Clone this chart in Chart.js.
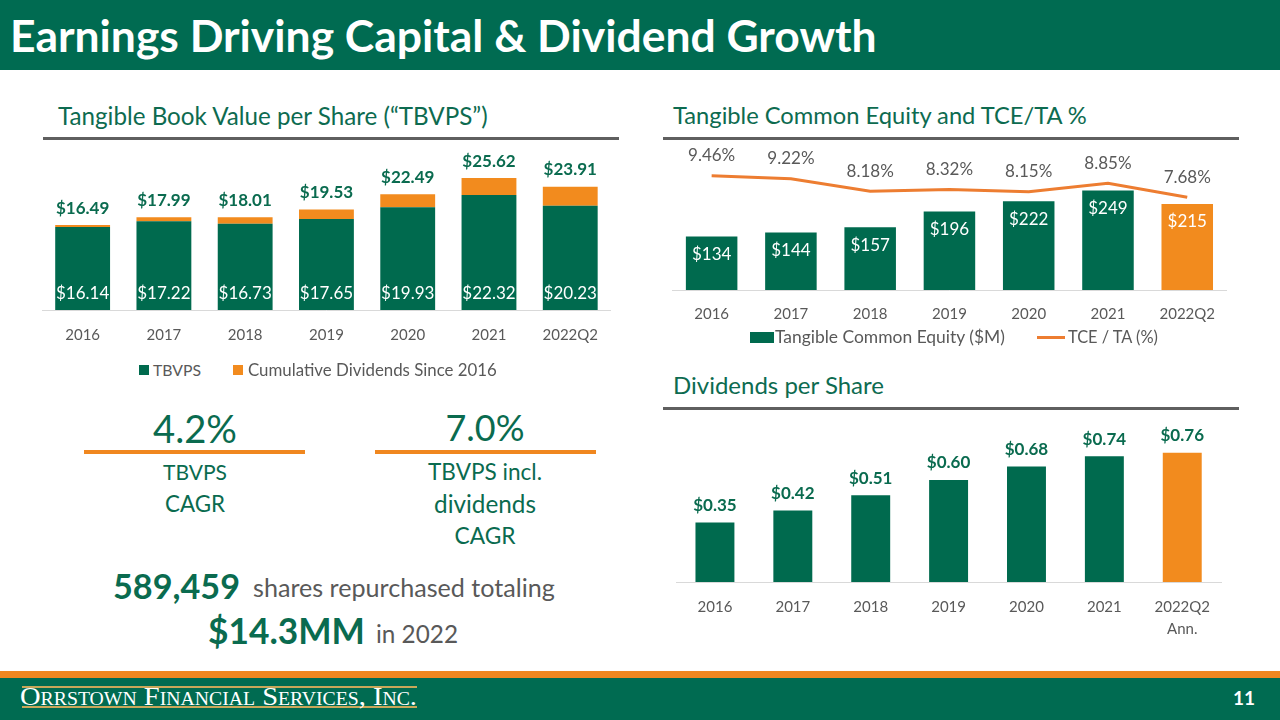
<!DOCTYPE html>
<html>
<head>
<meta charset="utf-8">
<script src="https://cdn.jsdelivr.net/npm/chart.js@4.4.1/dist/chart.umd.min.js"></script>
<style>
  html,body{margin:0;padding:0;}
  body{width:1280px;height:720px;position:relative;overflow:hidden;background:#fff;font-family:Lato,"Noto Sans",sans-serif;}
  .abs{position:absolute;white-space:nowrap;line-height:1;}
  .l{transform:translateY(-50%);}
  .c{transform:translate(-50%,-50%);}
  #hdr{position:absolute;left:0;top:0;width:1280px;height:70px;background:#006B51;}
  .rule{position:absolute;height:3px;background:#5f5f5f;}
  .sub{color:#0D6B50;font-size:24px;}
  .gray{color:#595959;}
  .green{color:#0A6B4F;}
  canvas{position:absolute;}
  .sw{position:absolute;}
</style>
</head>
<body>
<div id="hdr"></div>
<div class="abs l" style="left:10px;top:35px;color:#fff;font-weight:700;font-size:40px;" data-w="867">Earnings Driving Capital &amp; Dividend Growth</div>

<div class="abs l sub" style="left:58px;top:116px;" data-w="430">Tangible Book Value per Share (“TBVPS”)</div>
<div class="rule" style="left:43px;top:137px;width:576px;"></div>
<div class="abs l sub" style="left:673px;top:116px;" data-w="414">Tangible Common Equity and TCE/TA %</div>
<div class="rule" style="left:663px;top:137px;width:576px;"></div>
<div class="abs l sub" style="left:673px;top:385px;" data-w="211">Dividends per Share</div>
<div class="rule" style="left:663px;top:407px;width:576px;"></div>

<canvas id="c1" width="572" height="220" style="left:42px;top:140px;"></canvas>
<canvas id="c2" width="558" height="203" style="left:672px;top:135px;"></canvas>
<canvas id="c3" width="548" height="239" style="left:676px;top:415px;"></canvas>

<!-- legend chart 1 -->
<div class="sw" style="left:139px;top:365px;width:10px;height:10px;background:#006A4E;"></div>
<div class="abs l gray" style="left:153px;top:370px;font-size:15px;" data-w="48">TBVPS</div>
<div class="sw" style="left:233px;top:365px;width:10px;height:10px;background:#F28B1E;"></div>
<div class="abs l gray" style="left:248px;top:370px;font-size:15px;" data-w="249">Cumulative Dividends Since 2016</div>

<!-- legend chart 2 -->
<div class="sw" style="left:750px;top:332px;width:24px;height:11px;background:#006A4E;"></div>
<div class="abs l gray" style="left:775px;top:337px;font-size:15px;" data-w="230">Tangible Common Equity ($M)</div>
<div class="sw" style="left:1037px;top:336px;width:28px;height:3px;background:#ED7D31;"></div>
<div class="abs l gray" style="left:1068px;top:337px;font-size:15px;" data-w="90">TCE / TA (%)</div>

<!-- CAGR boxes -->
<div class="abs c green" style="left:195px;top:428px;font-size:40px;" data-w="84">4.2%</div>
<div class="sw" style="left:84px;top:450px;width:221px;height:4px;background:#F0871F;"></div>
<div class="abs c green" style="left:195px;top:472px;font-size:22px;" data-w="64">TBVPS</div>
<div class="abs c green" style="left:195px;top:504px;font-size:22px;" data-w="60">CAGR</div>

<div class="abs c green" style="left:485px;top:428px;font-size:40px;" data-w="79">7.0%</div>
<div class="sw" style="left:375px;top:450px;width:221px;height:4px;background:#F0871F;"></div>
<div class="abs c green" style="left:485px;top:472px;font-size:22px;" data-w="114">TBVPS incl.</div>
<div class="abs c green" style="left:485px;top:504px;font-size:22px;" data-w="102">dividends</div>
<div class="abs c green" style="left:485px;top:536px;font-size:22px;" data-w="61">CAGR</div>

<div class="abs l green" style="left:113px;top:586px;font-size:30px;font-weight:700;" data-w="127">589,459</div>
<div class="abs l gray" style="left:253px;top:588px;font-size:24px;" data-w="302">shares repurchased totaling</div>
<div class="abs l green" style="left:208px;top:631px;font-size:32px;font-weight:700;" data-w="157">$14.3MM</div>
<div class="abs l gray" style="left:376px;top:634px;font-size:22px;" data-w="82">in 2022</div>

<!-- footer -->
<div style="position:absolute;left:0;top:671px;width:1280px;height:7px;background:#F0871F;"></div>
<div style="position:absolute;left:0;top:678px;width:1280px;height:42px;background:#006B51;"></div>
<div style="position:absolute;left:22px;top:686px;width:395px;height:1.5px;background:#C9A75A;"></div>
<div style="position:absolute;left:22px;top:706px;width:395px;height:1.5px;background:#C9A75A;"></div>
<div class="abs l" id="logo" style="left:20px;top:697px;color:#fff;font-family:'Liberation Serif','DejaVu Serif',serif;font-size:26px;font-variant:small-caps;transform-origin:0 50%;" data-w="397" data-mode="scale">Orrstown Financial Services, Inc.</div>
<div class="abs l" style="left:1233px;top:697px;color:#fff;font-weight:700;font-size:19px;">11</div>

<script>
// ---------- data ----------
const years = ['2016','2017','2018','2019','2020','2021','2022Q2'];
const tbvps = [16.14, 17.22, 16.73, 17.65, 19.93, 22.32, 20.23];
const cumDividends = [0.35, 0.77, 1.28, 1.88, 2.56, 3.30, 3.68];
const tceValues = [134, 144, 157, 196, 222, 249, 215];
const tceTaPct = [9.46, 9.22, 8.18, 8.32, 8.15, 8.85, 7.68];
const dpsLabels = ['2016','2017','2018','2019','2020','2021',['2022Q2','Ann.']];
const dpsValues = [0.35, 0.42, 0.51, 0.60, 0.68, 0.74, 0.76];

// ---------- styles ----------
const GREEN = '#006A4E', ORANGE = '#F28B1E', LINE_OR = '#ED7D31', LBL_GREEN = '#0A6B4F', GRAY = '#595959';
Chart.defaults.font.family = 'Lato, "Noto Sans", sans-serif';
Chart.defaults.color = GRAY;

function labelPlugin(items){
  return {
    id: 'vlabels',
    afterDatasetsDraw(chart){
      const ctx = chart.ctx;
      items.forEach(it => {
        const meta = chart.getDatasetMeta(it.dataset);
        meta.data.forEach((el, i) => {
          let y;
          if (it.pos === 'above') y = el.y - it.offset;
          else if (it.pos === 'insideTop') y = el.y + it.offset;
          else y = el.base - it.offset;
          ctx.save();
          ctx.font = it.font;
          ctx.fillStyle = it.color;
          ctx.textAlign = 'center';
          ctx.textBaseline = 'middle';
          ctx.fillText(it.text(i), el.x, y);
          ctx.restore();
        });
      });
    }
  };
}
function lastOrange(n){ return Array.from({length:n}, (_, i) => i === n-1 ? ORANGE : GREEN); }

const xAxisBase = (padding, lh) => ({
  grid: {display: false, drawTicks: false},
  border: {display: true, color: '#D9D9D9', width: 1},
  ticks: {color: GRAY, font: {size: 15, lineHeight: lh}, padding: padding, maxRotation: 0, autoSkip: false}
});

// ---------- chart 1 : TBVPS stacked ----------
new Chart(document.getElementById('c1'), {
  type: 'bar',
  data: {
    labels: years,
    datasets: [
      {label: 'TBVPS', data: tbvps, backgroundColor: GREEN, barPercentage: 0.675, categoryPercentage: 1},
      {label: 'Cumulative Dividends Since 2016', data: cumDividends, backgroundColor: ORANGE, barPercentage: 0.675, categoryPercentage: 1}
    ]
  },
  options: {
    responsive: false, animation: false,
    layout: {padding: {top: 15.5, left: 0, right: 0, bottom: 0}},
    plugins: {legend: {display: false}, tooltip: {enabled: false}},
    scales: {
      x: Object.assign({stacked: true}, xAxisBase(16, 1.2)),
      y: {stacked: true, display: false, min: 0, max: 30}
    }
  },
  plugins: [labelPlugin([
    {dataset: 0, pos: 'insideBottom', offset: 16, font: '17px Lato', color: '#fff', text: i => '$' + tbvps[i].toFixed(2)},
    {dataset: 1, pos: 'above', offset: 17, font: 'bold 17px Lato', color: LBL_GREEN, text: i => '$' + (tbvps[i] + cumDividends[i]).toFixed(2)}
  ])]
});

// ---------- chart 2 : TCE & TCE/TA ----------
new Chart(document.getElementById('c2'), {
  type: 'bar',
  data: {
    labels: years,
    datasets: [
      {type: 'line', label: 'TCE / TA (%)', data: tceTaPct, yAxisID: 'y1', borderColor: LINE_OR, borderWidth: 3, pointRadius: 0, tension: 0, fill: false},
      {type: 'bar', label: 'Tangible Common Equity ($M)', data: tceValues, yAxisID: 'y', backgroundColor: lastOrange(7), barPercentage: 0.65, categoryPercentage: 1}
    ]
  },
  options: {
    responsive: false, animation: false,
    layout: {padding: {top: 15, left: 0, right: 0, bottom: 0}},
    plugins: {legend: {display: false}, tooltip: {enabled: false}},
    scales: {
      x: xAxisBase(15, 1.2),
      y: {display: false, min: 0, max: 350},
      y1: {display: false, min: 0, max: 11.6, position: 'right'}
    }
  },
  plugins: [labelPlugin([
    {dataset: 1, pos: 'insideTop', offset: 18, font: '17px Lato', color: '#fff', text: i => '$' + tceValues[i]},
    {dataset: 0, pos: 'above', offset: 20, font: '17px Lato', color: GRAY, text: i => tceTaPct[i].toFixed(2) + '%'}
  ])]
});

// ---------- chart 3 : Dividends per share ----------
new Chart(document.getElementById('c3'), {
  type: 'bar',
  data: {
    labels: dpsLabels,
    datasets: [
      {label: 'Dividends per Share', data: dpsValues, backgroundColor: lastOrange(7), barPercentage: 0.5, categoryPercentage: 1}
    ]
  },
  options: {
    responsive: false, animation: false,
    layout: {padding: {top: 14, left: 0, right: 0, bottom: 0}},
    plugins: {legend: {display: false}, tooltip: {enabled: false}},
    scales: {
      x: xAxisBase(14, 22/15),
      y: {display: false, min: 0, max: 0.9}
    }
  },
  plugins: [labelPlugin([
    {dataset: 0, pos: 'above', offset: 17, font: 'bold 17px Lato', color: LBL_GREEN, text: i => '$' + dpsValues[i].toFixed(2)}
  ])]
});

// ---------- fit HTML text widths ----------
function fitText(){
  document.querySelectorAll('[data-w]').forEach(el => {
    const target = +el.dataset.w;
    if (!el.dataset.fs) el.dataset.fs = parseFloat(getComputedStyle(el).fontSize);
    const base = +el.dataset.fs;
    if (el.dataset.mode === 'scale') {
      el.style.transform = 'translateY(-50%)';
      const w = el.getBoundingClientRect().width;
      el.style.transform = 'translateY(-50%) scaleX(' + (target / w) + ')';
    } else {
      el.style.fontSize = base + 'px';
      const w = el.getBoundingClientRect().width;
      el.style.fontSize = (base * target / w) + 'px';
    }
  });
}
fitText();
if (document.fonts && document.fonts.ready) document.fonts.ready.then(fitText);
</script>
</body>
</html>
